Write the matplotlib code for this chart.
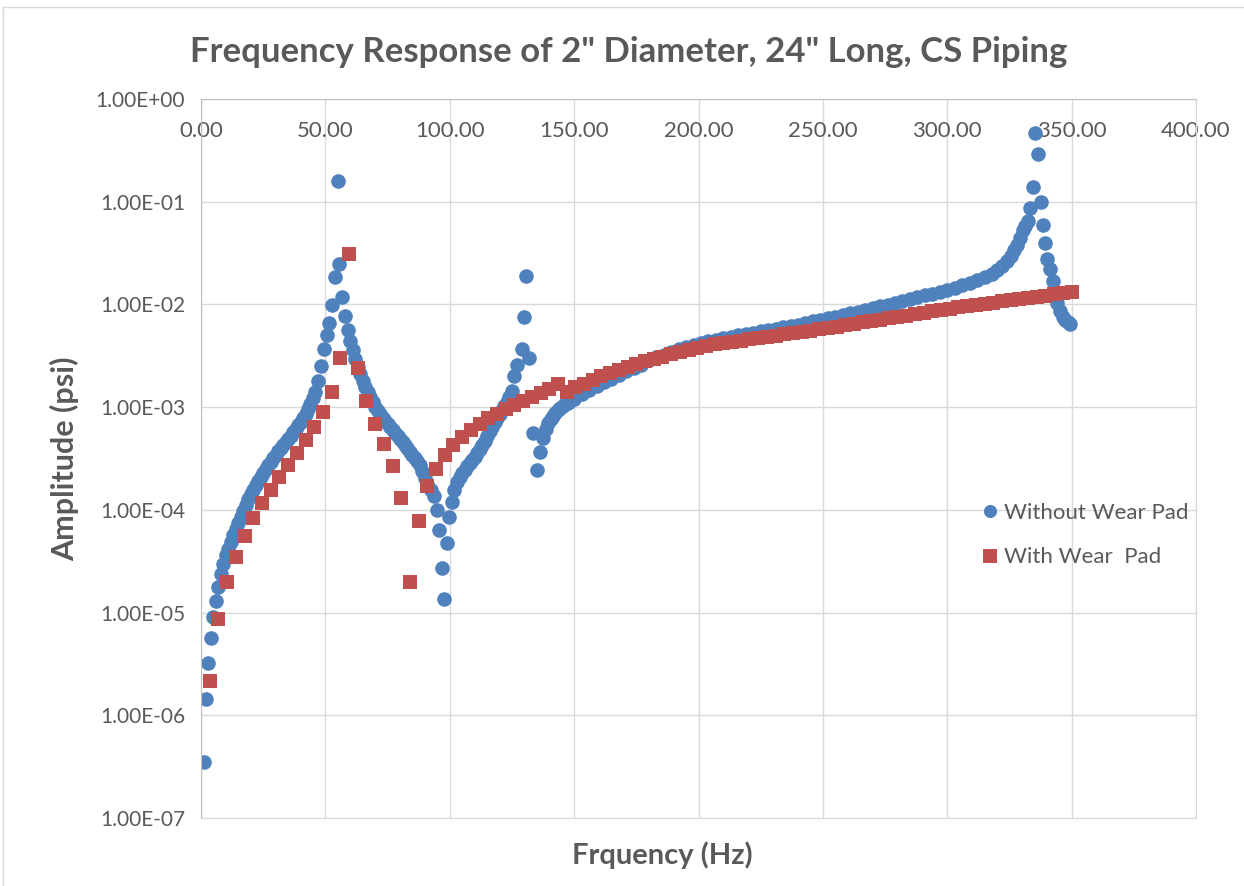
import numpy as np
import matplotlib.pyplot as plt
from matplotlib.ticker import FixedLocator, NullLocator, FuncFormatter
from matplotlib.lines import Line2D

plt.rcParams['font.family'] = ['Lato', 'DejaVu Sans']

TEXT_COLOR = "#595959"
BLUE = "#4F81BD"
RED = "#C0504D"

# ---------------------------------------------------------------
# Without Wear Pad
# ---------------------------------------------------------------
blue_freq = [
    1, 2, 3, 4, 5, 6, 7, 8, 9,
    10, 11, 12, 13, 14, 15, 16, 17, 18, 19, 20, 21, 22, 23, 24, 25, 26, 27, 28, 29,
    30, 31, 32, 33, 34, 35, 36, 37, 38, 39, 40, 41, 42, 43, 44, 45, 46,
    47.0, 48.2, 49.4, 50.5, 51.6, 52.8, 53.9, 54.9, 55.6, 56.8, 57.8, 59.0,
    60, 61, 62, 63, 64, 65, 66, 67, 68, 69, 70, 71, 72, 73, 74, 75, 76, 77, 78, 79,
    80, 81, 82, 83, 84, 85, 86, 87, 88, 89, 90, 91, 92.4,
    93.6, 94.8, 95.8, 96.8, 97.7, 98.8, 99.8, 100.8, 101.7, 102.8,
    104, 105, 106, 107, 108, 109, 110, 111, 112, 113, 114, 115, 116, 117, 118, 119,
    120, 121, 122, 123, 124, 125, 126, 126.9, 128.9, 129.8, 130.8,
    131.9, 133.6, 134.9, 136.3, 137.4, 138.5, 139.5, 140.5, 141.5, 142.5, 143.5, 144.5,
    145.5, 146.5, 147.5, 148.5,
    150, 153, 156, 159, 162, 165, 168, 171, 174, 177, 180, 183, 186, 189, 192, 195, 198,
    201, 204, 207, 210, 213, 216, 219, 222, 225, 228, 231, 234, 237, 240, 243, 246, 249,
    252, 255, 258, 261, 264, 267, 270, 273, 276, 279, 282, 285, 288, 291, 294, 297, 300,
    303, 306, 309, 312, 315, 318, 320, 322, 324, 325.5, 327, 328, 329.2, 330.3, 331.3, 332.3,
    333.3, 334.3, 335.3, 336.6, 337.6, 338.4, 339.3, 340.3, 341.3, 342.4, 343.3, 344.3,
    345.3, 346.4, 347.5, 348.5, 349.5,
]
blue_amp = [
    3.5e-7, 1.43e-6, 3.2e-6, 5.7e-6, 9.0e-6, 1.29e-5, 1.78e-5, 2.37e-5, 2.97e-5,
    3.6e-5, 4.2e-5, 4.9e-5, 5.7e-5, 6.5e-5, 7.5e-5, 8.6e-5, 9.8e-5, 1.12e-4, 1.27e-4,
    1.42e-4, 1.58e-4, 1.75e-4, 1.92e-4, 2.1e-4, 2.3e-4, 2.5e-4, 2.72e-4, 2.95e-4, 3.2e-4,
    3.45e-4, 3.72e-4, 4.0e-4, 4.3e-4, 4.6e-4, 4.95e-4, 5.3e-4, 5.75e-4, 6.2e-4, 6.7e-4,
    7.2e-4, 7.85e-4, 8.6e-4, 9.5e-4, 1.07e-3, 1.22e-3, 1.42e-3,
    1.8e-3, 2.5e-3, 3.7e-3, 5.0e-3, 6.6e-3, 9.8e-3, 1.85e-2, 1.59e-1, 2.5e-2, 1.17e-2,
    7.7e-3, 5.7e-3,
    4.4e-3, 3.6e-3, 2.95e-3, 2.45e-3, 2.1e-3, 1.8e-3, 1.58e-3, 1.4e-3, 1.25e-3, 1.12e-3,
    1.01e-3, 9.2e-4, 8.5e-4, 7.9e-4, 7.35e-4, 6.85e-4, 6.4e-4, 6.0e-4, 5.6e-4, 5.25e-4,
    4.9e-4, 4.6e-4, 4.3e-4, 4.0e-4, 3.7e-4, 3.45e-4, 3.2e-4, 2.98e-4, 2.75e-4, 2.4e-4,
    2.05e-4, 1.8e-4, 1.55e-4,
    1.36e-4, 1.0e-4, 6.4e-5, 2.7e-5, 1.35e-5, 4.8e-5, 8.6e-5, 1.2e-4, 1.56e-4, 1.85e-4,
    2.1e-4, 2.27e-4, 2.45e-4, 2.65e-4, 2.85e-4, 3.05e-4, 3.3e-4, 3.6e-4, 3.9e-4, 4.25e-4,
    4.7e-4, 5.2e-4, 5.8e-4, 6.4e-4, 7.1e-4, 7.8e-4,
    8.6e-4, 9.4e-4, 1.03e-3, 1.13e-3, 1.25e-3, 1.45e-3, 2.0e-3, 2.6e-3, 3.7e-3, 7.5e-3,
    1.9e-2,
    3.0e-3, 5.6e-4, 2.45e-4, 3.7e-4, 5.0e-4, 6.1e-4, 7.0e-4, 7.6e-4, 8.2e-4, 8.8e-4,
    9.3e-4, 9.8e-4, 1.03e-3, 1.07e-3, 1.11e-3, 1.15e-3,
    1.2e-3, 1.33e-3, 1.46e-3, 1.6e-3, 1.75e-3, 1.9e-3, 2.06e-3, 2.23e-3, 2.4e-3, 2.6e-3,
    2.85e-3, 3.05e-3, 3.25e-3, 3.45e-3, 3.65e-3, 3.85e-3, 4.05e-3,
    4.25e-3, 4.4e-3, 4.55e-3, 4.7e-3, 4.85e-3, 5.0e-3, 5.15e-3, 5.3e-3, 5.46e-3,
    5.63e-3, 5.8e-3, 5.98e-3, 6.17e-3, 6.36e-3, 6.59e-3, 6.83e-3, 7.08e-3,
    7.34e-3, 7.62e-3, 7.91e-3, 8.22e-3, 8.54e-3, 8.88e-3, 9.23e-3, 9.60e-3, 9.99e-3,
    1.039e-2, 1.082e-2, 1.127e-2, 1.175e-2, 1.224e-2, 1.277e-2, 1.332e-2, 1.39e-2,
    1.46e-2, 1.54e-2, 1.63e-2, 1.73e-2, 1.85e-2, 2.0e-2, 2.15e-2, 2.35e-2, 2.65e-2,
    2.95e-2, 3.4e-2, 3.8e-2, 4.4e-2, 5.3e-2, 5.8e-2, 6.5e-2,
    8.6e-2, 1.4e-1, 4.7e-1, 2.9e-1, 1.0e-1, 5.9e-2, 4.0e-2, 2.8e-2, 2.2e-2, 1.7e-2,
    1.33e-2, 1.03e-2,
    8.6e-3, 7.6e-3, 7.0e-3, 6.7e-3, 6.5e-3,
]

# ---------------------------------------------------------------
# With Wear Pad (every 3.5 Hz)
# ---------------------------------------------------------------
red_freq = np.arange(1, 101) * 3.5
red_amp = [
    2.15e-6, 8.6e-6, 2.0e-5, 3.5e-5, 5.6e-5, 8.3e-5, 1.17e-4, 1.57e-4, 2.07e-4, 2.75e-4,
    3.6e-4, 4.8e-4, 6.4e-4, 9.0e-4, 1.42e-3, 3.0e-3, 3.1e-2, 2.4e-3, 1.15e-3, 6.9e-4,
    4.4e-4, 2.65e-4, 1.3e-4, 2.0e-5, 7.8e-5, 1.7e-4, 2.5e-4, 3.4e-4, 4.3e-4, 5.1e-4,
    6.0e-4, 6.9e-4, 7.8e-4, 8.6e-4, 9.5e-4, 1.04e-3, 1.15e-3, 1.26e-3, 1.38e-3, 1.5e-3,
    1.68e-3, 1.42e-3, 1.56e-3, 1.70e-3, 1.84e-3, 2.0e-3, 2.15e-3, 2.31e-3, 2.47e-3, 2.63e-3,
    2.79e-3, 2.95e-3, 3.11e-3, 3.27e-3, 3.44e-3, 3.61e-3, 3.78e-3, 3.96e-3, 4.08e-3, 4.2e-3,
    4.32e-3, 4.44e-3, 4.57e-3, 4.7e-3, 4.84e-3, 4.98e-3, 5.12e-3, 5.27e-3, 5.42e-3, 5.58e-3,
    5.74e-3, 5.9e-3, 6.09e-3, 6.28e-3, 6.48e-3, 6.68e-3, 6.9e-3, 7.11e-3, 7.34e-3, 7.57e-3,
    7.81e-3, 8.06e-3, 8.31e-3, 8.58e-3, 8.85e-3, 9.13e-3, 9.38e-3, 9.63e-3, 9.89e-3, 1.015e-2,
    1.042e-2, 1.07e-2, 1.1e-2, 1.13e-2, 1.16e-2, 1.19e-2, 1.22e-2, 1.26e-2, 1.29e-2, 1.33e-2,
]

x_ticks = [0, 50, 100, 150, 200, 250, 300, 350, 400]
y_ticks = [1e-7, 1e-6, 1e-5, 1e-4, 1e-3, 1e-2, 1e-1, 1e0]

fig = plt.figure(figsize=(12.44, 8.86), dpi=100)
ax = fig.add_axes([0.1616, 0.0767, 0.7998, 0.8115])

ax.plot(blue_freq, blue_amp, linestyle="none", marker="o", markersize=10.5,
        color=BLUE, markeredgewidth=0, label="Without Wear Pad")
ax.plot(red_freq, red_amp, linestyle="none", marker="s", markersize=10.5,
        color=RED, markeredgewidth=0, label="With Wear  Pad")

ax.set_yscale("log")
ax.set_xlim(0, 400)
ax.set_ylim(1e-7, 1e0)
ax.xaxis.set_major_locator(FixedLocator(x_ticks))
ax.yaxis.set_major_locator(FixedLocator(y_ticks))
ax.yaxis.set_minor_locator(NullLocator())
ax.xaxis.set_major_formatter(FuncFormatter(lambda v, p: f"{v:.2f}"))
ax.yaxis.set_major_formatter(FuncFormatter(lambda v, p: "{:.2E}".format(v)))

ax.tick_params(axis="x", top=True, labeltop=True, bottom=False, labelbottom=False,
               length=0, pad=-30, labelsize=16, labelcolor=TEXT_COLOR)
ax.tick_params(axis="y", length=0, pad=11.5, labelsize=15, labelcolor=TEXT_COLOR)

ax.grid(True, which="major", color="#D9D9D9", linewidth=1.0)
ax.set_axisbelow(True)
for side in ["left", "top"]:
    ax.spines[side].set_color("#BFBFBF")
for side in ["right", "bottom"]:
    ax.spines[side].set_color("#D9D9D9")

ax.set_xlabel("Frquency (Hz)", fontsize=21, fontweight="bold", color=TEXT_COLOR)
ax.xaxis.set_label_coords(0.464, -0.0515)
ax.xaxis.label.set_va("center")
ax.set_ylabel("Amplitude (psi)", fontsize=22, fontweight="bold", color=TEXT_COLOR, labelpad=12)
fig.text(0.505, 0.941, 'Frequency Response of 2" Diameter, 24" Long, CS Piping',
         ha="center", va="center", fontsize=25, fontweight="bold", color=TEXT_COLOR)

ax.legend(loc="upper left", bbox_to_anchor=(0.762, 0.466), frameon=False,
          fontsize=16, labelcolor=TEXT_COLOR, handletextpad=0.1, labelspacing=1.1,
          handlelength=1.0, markerscale=0.9)

# light chart-area border (top and left edges visible in the original)
fig.add_artist(Line2D([3 / 1244, 1], [1 - 7 / 886, 1 - 7 / 886], color="#D9D9D9",
                      linewidth=1.0, transform=fig.transFigure))
fig.add_artist(Line2D([3 / 1244, 3 / 1244], [0, 1 - 7 / 886], color="#D9D9D9",
                      linewidth=1.0, transform=fig.transFigure))

fig.savefig("out.png", dpi=100)
